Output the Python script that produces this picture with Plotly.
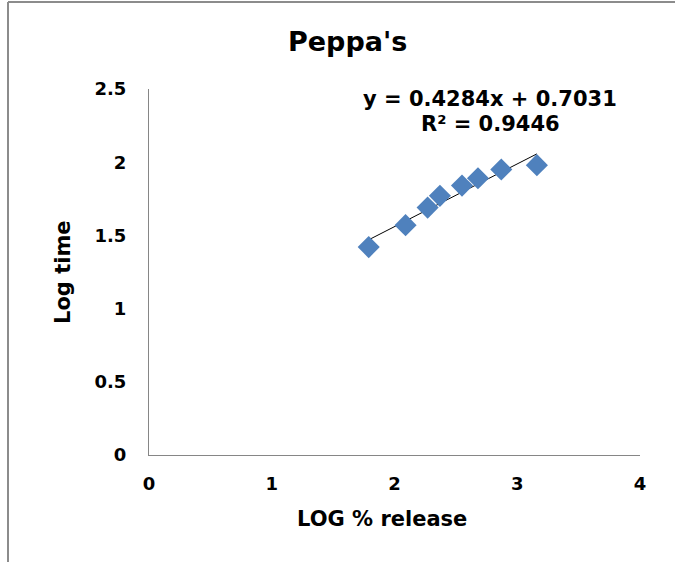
import plotly.graph_objects as go

log_release = [1.79, 2.09, 2.27, 2.37, 2.55, 2.68, 2.87, 3.16]
log_time = [1.42, 1.57, 1.69, 1.77, 1.84, 1.89, 1.95, 1.98]
slope = 0.4284
intercept = 0.7031
r2 = 0.9446
x_ticks = [0, 1, 2, 3, 4]
y_ticks = [0, 0.5, 1, 1.5, 2, 2.5]
y_tick_text = ["0", "0.5", "1", "1.5", "2", "2.5"]

FONT = "DejaVu Sans, Arial, sans-serif"
W, H = 675, 562
L, R, T, B = 149, 35, 89, 107
pw, ph = W - L - R, H - T - B

fit_x = [min(log_release), max(log_release)]
fit_y = [slope * v + intercept for v in fit_x]

fig = go.Figure()
fig.add_trace(go.Scatter(x=fit_x, y=fit_y, mode="lines",
                         line=dict(color="#000000", width=1), showlegend=False, hoverinfo="skip"))
fig.add_trace(go.Scatter(x=log_release, y=log_time, mode="markers",
                         marker=dict(symbol="diamond", size=17, color="#4F81BD"),
                         showlegend=False))

def px_x(p):
    return (p - L) / pw

def px_y(p):
    return 1 - (p - T) / ph

def f(size):
    return dict(family=FONT, size=size, color="#000", weight="bold")

annotations = [
    dict(text="Peppa's", x=px_x(347), y=px_y(42), xref="paper", yref="paper",
         showarrow=False, font=f(27), xanchor="center", yanchor="middle"),
    dict(text=f"y = {slope}x + {intercept}", x=px_x(490), y=px_y(99), xref="paper", yref="paper",
         showarrow=False, font=f(21), xanchor="center", yanchor="middle"),
    dict(text=f"R² = {r2}", x=px_x(490), y=px_y(124), xref="paper", yref="paper",
         showarrow=False, font=f(21), xanchor="center", yanchor="middle"),
    dict(text="LOG % release", x=px_x(382), y=px_y(519), xref="paper", yref="paper",
         showarrow=False, font=f(21), xanchor="center", yanchor="middle"),
    dict(text="Log time", x=px_x(63), y=px_y(272), xref="paper", yref="paper", textangle=-90,
         showarrow=False, font=f(21), xanchor="center", yanchor="middle"),
]

shapes = [
    dict(type="line", xref="paper", yref="paper", x0=px_x(8), x1=px_x(8), y0=px_y(2), y1=px_y(562),
         line=dict(color="#8c8c8c", width=2)),
    dict(type="line", xref="paper", yref="paper", x0=px_x(8), x1=px_x(675), y0=px_y(2), y1=px_y(2),
         line=dict(color="#8c8c8c", width=2)),
]

fig.update_layout(
    width=W, height=H,
    margin=dict(l=L, r=R, t=T, b=B, pad=0),
    paper_bgcolor="white", plot_bgcolor="white",
    annotations=annotations, shapes=shapes,
    xaxis=dict(range=[0, 4], tickvals=x_ticks, showgrid=False, zeroline=False,
               showline=True, linecolor="#868686", linewidth=1, ticks="",
               ticklabelstandoff=12, tickfont=f(18)),
    yaxis=dict(range=[0, 2.5], tickvals=y_ticks, ticktext=y_tick_text,
               showgrid=False, zeroline=False,
               showline=True, linecolor="#868686", linewidth=1, ticks="",
               ticklabelstandoff=18, tickfont=f(18)),
)

fig.write_html("out.html")
